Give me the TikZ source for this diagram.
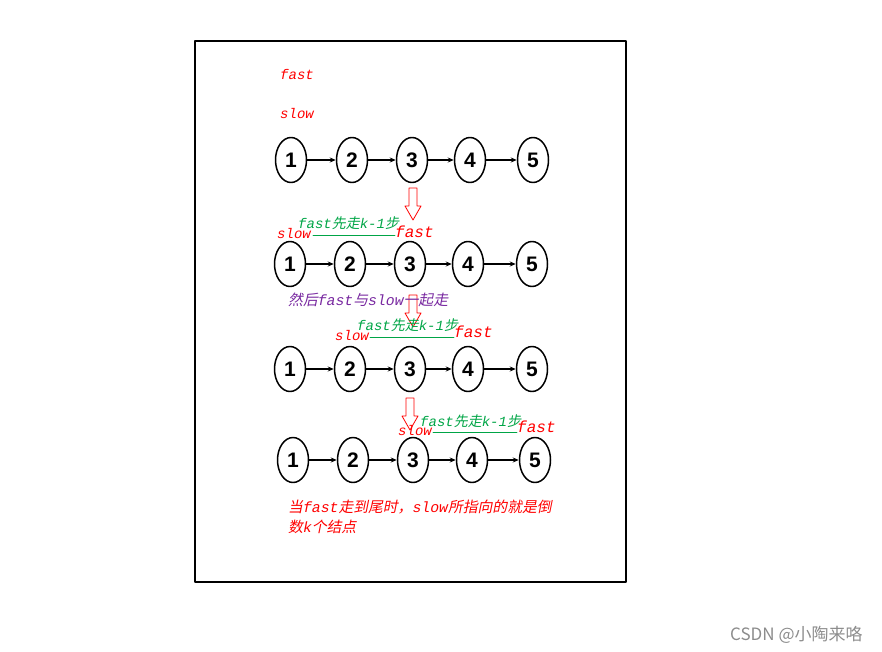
\documentclass[tikz,border=0pt]{standalone}
\usepackage{fontspec}
\setmainfont{Liberation Serif}
\setsansfont{Liberation Sans}
\setmonofont{Liberation Mono}
\newfontfamily\han{Noto Sans CJK SC}[FakeSlant=0.2]
\newfontfamily\wm{Noto Sans CJK SC}
\usepackage{tikz}
\usetikzlibrary{arrows.meta,shapes.geometric}
\definecolor{tagred}{RGB}{255,0,0}
\definecolor{steppgreen}{RGB}{0,165,70}
\definecolor{notepurple}{RGB}{120,40,160}
\newcommand\lat[1]{{\ttfamily\itshape #1}}
\tikzset{
  listnode/.style={ellipse,draw,line width=1.5pt,minimum width=31pt,minimum height=45pt,inner sep=0pt,
    font=\sffamily\bfseries\fontsize{21}{21}\selectfont},
  link/.style={-{Stealth[length=6pt,width=5pt]},line width=1.2pt},
  tag/.style={anchor=base west,inner sep=0pt,text=tagred,font=\fontsize{14}{14}\selectfont},
  bigtag/.style={tag,font=\fontsize{16}{16}\selectfont},
  steptext/.style={anchor=base west,inner sep=0pt,text=steppgreen,font=\fontsize{14}{14}\selectfont},
  hollow down/.pic={\draw[tagred,line width=0.8pt] (-4,0) -- (4,0) -- (4,18) -- (8,18) -- (0,32) -- (-8,18) -- (-4,18) -- cycle;}
}
\begin{document}
\begin{tikzpicture}[x=1pt,y=-1pt,line cap=round,line join=round]
\useasboundingbox (0,0) rectangle (882,652);
\draw [line width=2pt] (195,41) rectangle (626,582);
% start
\node[tag] (fasttop) at (280,80) {\lat{fast}};
\node[tag] (slowtop) at (280,119) {\lat{slow}};
\node[listnode] (a1) at (291,160) {1};
\node[listnode] (a2) at (352,160) {2};
\node[listnode] (a3) at (412,160) {3};
\node[listnode] (a4) at (470,160) {4};
\node[listnode] (a5) at (533,160) {5};
\draw[link] (a1) -- (a2);
\draw[link] (a2) -- (a3);
\draw[link] (a3) -- (a4);
\draw[link] (a4) -- (a5);
\pic at (413,188) {hollow down};
% fast goes k-1 steps first
\node[tag] (slowb) at (277,238) {\lat{slow}};
\node[bigtag] (fastb) at (395,237) {\lat{fast}};
\node[steptext] (stepb) at (298,229) {\lat{fast}{\han 先走}\lat{k-1}{\han 步}};
\draw[steppgreen,line width=0.8pt] (slowb.base east) ++(2,-3) coordinate (ub1) -- (ub1 -| fastb.west);
\node[listnode] (b1) at (290,264) {1};
\node[listnode] (b2) at (350,264) {2};
\node[listnode] (b3) at (410,264) {3};
\node[listnode] (b4) at (468,264) {4};
\node[listnode] (b5) at (532,264) {5};
\draw[link] (b1) -- (b2);
\draw[link] (b2) -- (b3);
\draw[link] (b3) -- (b4);
\draw[link] (b4) -- (b5);
\pic at (413,295) {hollow down};
\node[anchor=base west,inner sep=0pt,text=notepurple,font=\fontsize{14.8}{14.8}\selectfont] (together) at (288,305)
  {{\han 然后}\lat{fast}{\han 与}\lat{slow}{\han 一起走}};
% move together
\node[tag] (slowc) at (335,340) {\lat{slow}};
\node[bigtag] (fastc) at (454,337) {\lat{fast}};
\node[steptext] (stepc) at (357,330) {\lat{fast}{\han 先走}\lat{k-1}{\han 步}};
\draw[steppgreen,line width=0.8pt] (slowc.base east) ++(1,-3) coordinate (uc1) -- (uc1 -| fastc.west);
\node[listnode] (c1) at (290,369) {1};
\node[listnode] (c2) at (350,369) {2};
\node[listnode] (c3) at (410,369) {3};
\node[listnode] (c4) at (468,369) {4};
\node[listnode] (c5) at (532,369) {5};
\draw[link] (c1) -- (c2);
\draw[link] (c2) -- (c3);
\draw[link] (c3) -- (c4);
\draw[link] (c4) -- (c5);
\pic at (410,398) {hollow down};
% fast at the end
\node[tag] (slowd) at (398,435) {\lat{slow}};
\node[bigtag] (fastd) at (517,432) {\lat{fast}};
\node[steptext] (stepd) at (420,426) {\lat{fast}{\han 先走}\lat{k-1}{\han 步}};
\draw[steppgreen,line width=0.8pt] (slowd.base east) ++(1,-3) coordinate (ud1) -- (ud1 -| fastd.west);
\node[listnode] (d1) at (293,460) {1};
\node[listnode] (d2) at (353,460) {2};
\node[listnode] (d3) at (413,460) {3};
\node[listnode] (d4) at (472,460) {4};
\node[listnode] (d5) at (535,460) {5};
\draw[link] (d1) -- (d2);
\draw[link] (d2) -- (d3);
\draw[link] (d3) -- (d4);
\draw[link] (d4) -- (d5);
\node[tag,font=\fontsize{14.8}{14.8}\selectfont] (result1) at (288,512)
  {{\han 当}\lat{fast}{\han 走到尾时，}\lat{slow}{\han 所指向的就是倒}};
\node[tag,font=\fontsize{14.8}{14.8}\selectfont] (result2) at (288,532)
  {{\han 数}\lat{k}{\han 个结点}};
\node[anchor=base west,inner sep=0pt,text=black!45,font=\wm\fontsize{17}{17}\selectfont] (mark) at (730,640)
  {CSDN @小陶来咯};
\end{tikzpicture}
\end{document}
